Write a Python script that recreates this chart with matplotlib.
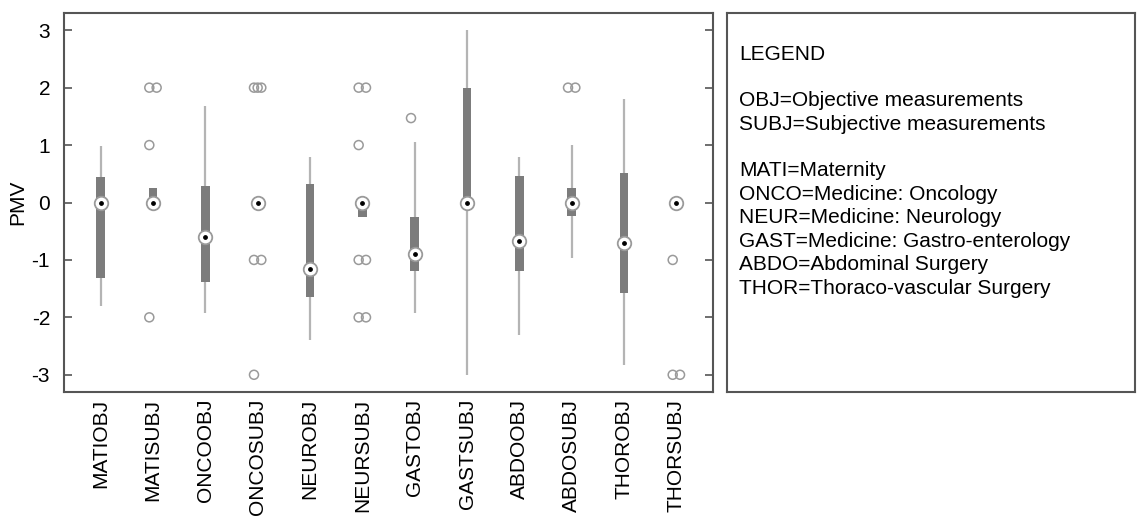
import numpy as np
import matplotlib
matplotlib.use("Agg")
import matplotlib.pyplot as plt

plt.rcParams['font.family'] = ['Liberation Sans', 'DejaVu Sans']
plt.rcParams['axes.unicode_minus'] = False

# Box statistics per ward / measurement type
labels = ['MATIOBJ', 'MATISUBJ', 'ONCOOBJ', 'ONCOSUBJ', 'NEUROBJ', 'NEURSUBJ',
          'GASTOBJ', 'GASTSUBJ', 'ABDOOBJ', 'ABDOSUBJ', 'THOROBJ', 'THORSUBJ']
q1 = [-1.32, 0.0, -1.38, 0.0, -1.64, -0.25, -1.19, 0.0, -1.19, -0.23, -1.58, 0.0]
q3 = [0.45, 0.25, 0.28, 0.0, 0.33, 0.0, -0.26, 2.0, 0.46, 0.25, 0.52, 0.0]
medians = [0.0, 0.0, -0.60, 0.0, -1.15, 0.0, -0.90, 0.0, -0.67, 0.0, -0.70, 0.0]
whis_lo = [-1.80, 0.0, -1.93, 0.0, -2.39, -0.25, -1.93, -3.0, -2.30, -0.97, -2.83, 0.0]
whis_hi = [0.98, 0.25, 1.68, 0.0, 0.80, 0.0, 1.06, 3.0, 0.80, 1.00, 1.80, 0.0]
outliers = [[], [2, 2, 1, -2], [], [2, 2, 2, -1, -1, -3], [], [2, 2, 1, -1, -1, -2, -2],
            [1.47], [], [], [2, 2], [], [-1, -3, -3]]

legend_lines = ['LEGEND', '', 'OBJ=Objective measurements', 'SUBJ=Subjective measurements', '',
                'MATI=Maternity', 'ONCO=Medicine: Oncology', 'NEUR=Medicine: Neurology',
                'GAST=Medicine: Gastro-enterology', 'ABDO=Abdominal Surgery',
                'THOR=Thoraco-vascular Surgery']

W, H = 1137, 521
fig = plt.figure(figsize=(W / 100, H / 100), dpi=100)
ax = fig.add_axes([64 / W, (H - 392) / H, (713 - 64) / W, (392 - 13) / H])

pos = np.arange(1, len(labels) + 1)
box_c = '#7c7c7c'
whisk_c = '#b4b4b4'
ring_c = '#9a9a9a'

ax.vlines(pos, whis_lo, whis_hi, color=whisk_c, lw=1.6, zorder=1)
ax.bar(pos, np.array(q3) - np.array(q1), bottom=q1, width=0.17, color=box_c, zorder=2)

# outliers, spread a little sideways when values repeat
for x, vals in zip(pos, outliers):
    for v in sorted(set(vals), reverse=True):
        n = vals.count(v)
        offs = np.linspace(-0.07, 0.07, n) if n > 1 else np.array([-0.07])
        ax.scatter(x + offs, [v] * n, s=42, facecolor='none', edgecolor=ring_c,
                   linewidth=1.1, zorder=3)

ax.scatter(pos, medians, s=95, facecolor='white', edgecolor=ring_c, linewidth=1.3, zorder=4)
ax.scatter(pos, medians, s=6, color='black', zorder=5)

ax.set_xlim(0.3, 12.7)
ax.set_ylim(-3.3, 3.3)
ax.set_yticks(range(-3, 4))
ax.set_xticks(pos)
ax.set_xticklabels(labels, rotation=90, fontsize=15)
ax.tick_params(axis='x', length=0, pad=5)
ax.tick_params(axis='y', direction='in', length=6, width=1.2, color='#555555',
               labelsize=15, pad=10, right=True)
for s in ax.spines.values():
    s.set_color('#555555')
    s.set_linewidth(1.5)
fig.text(18 / W, 1 - 202 / H, 'PMV', fontsize=15, rotation=90, ha='center', va='center')

# legend panel
lax = fig.add_axes([727 / W, (H - 392) / H, (1135 - 727) / W, (392 - 13) / H])
lax.set_xticks([])
lax.set_yticks([])
for s in lax.spines.values():
    s.set_color('#555555')
    s.set_linewidth(1.5)
y0 = 54
step = 23.4
for i, line in enumerate(legend_lines):
    if line:
        fig.text(739 / W, 1 - (y0 + i * step) / H, line, fontsize=15, ha='left', va='center')

fig.savefig('out.png', dpi=100)
